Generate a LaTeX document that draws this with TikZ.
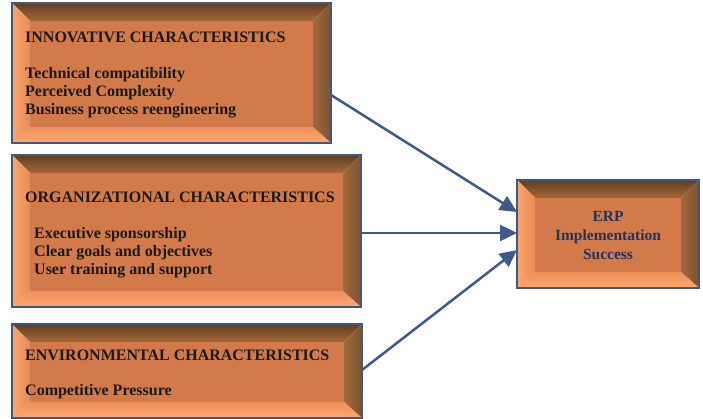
\documentclass[tikz,border=0pt]{standalone}
\usepackage{fontspec}
\setmainfont{Liberation Serif}
\usetikzlibrary{calc,arrows.meta}
\definecolor{face}{HTML}{D37A4A}
\definecolor{edgeblue}{HTML}{40587E}
\definecolor{arrowblue}{HTML}{3E5A8C}
\definecolor{navytext}{HTML}{1F3460}
\definecolor{txt}{HTML}{1A1A1A}
\definecolor{HTML5E3F22}{HTML}{5E3F22}
\definecolor{HTMLA8683A}{HTML}{A8683A}
\definecolor{HTMLFFA46C}{HTML}{FFA46C}
\definecolor{HTMLE48C58}{HTML}{E48C58}
\definecolor{HTMLA06A3C}{HTML}{A06A3C}
\definecolor{HTML7C5230}{HTML}{7C5230}
\definecolor{HTMLEE905C}{HTML}{EE905C}
\definecolor{HTMLFFA86E}{HTML}{FFA86E}
\newcommand{\bevelbox}[1]{%
  \coordinate (A) at (#1.north west);
  \coordinate (B) at (#1.north east);
  \coordinate (C) at (#1.south east);
  \coordinate (D) at (#1.south west);
  \coordinate (a) at ($(A)+(18,18)$);
  \coordinate (b) at ($(B)+(-18,18)$);
  \coordinate (c) at ($(C)+(-18,-16)$);
  \coordinate (d) at ($(D)+(18,-16)$);
  \shade[top color=HTML5E3F22, bottom color=HTMLA8683A] (A)--(B)--(b)--(a)--cycle;
  \shade[left color=HTMLFFA46C, right color=HTMLE48C58] (A)--(a)--(d)--(D)--cycle;
  \shade[left color=HTMLA06A3C, right color=HTML7C5230] (B)--(b)--(c)--(C)--cycle;
  \shade[top color=HTMLEE905C, bottom color=HTMLFFA86E] (D)--(d)--(c)--(C)--cycle;
  \fill[face] (a) rectangle (c);
  \draw[edgeblue, line width=1.2pt] (A) rectangle (C);
}
\tikzset{
  boxshape/.style={draw=none, inner sep=0pt, outer sep=0pt},
  lbl/.style={anchor=west, inner sep=0pt, text=txt, font=\fontsize{16}{18}\selectfont\bfseries, align=left},
  conn/.style={arrowblue, line width=2.5pt, -{Triangle[length=17pt,width=16pt]}}
}
\begin{document}
\begin{tikzpicture}[x=1pt,y=-1pt]
\useasboundingbox (0,0) rectangle (703,419);
\node[boxshape, minimum width=319pt, minimum height=140pt] (inno) at (171.5,73) {};
\node[boxshape, minimum width=349pt, minimum height=152pt] (org) at (186.5,231) {};
\node[boxshape, minimum width=350pt, minimum height=94pt] (env) at (187,371) {};
\node[boxshape, minimum width=182pt, minimum height=108pt] (erp) at (608,234) {};
\bevelbox{inno}
\bevelbox{org}
\bevelbox{env}
\bevelbox{erp}
\node[lbl] (innot) at (25,37) {INNOVATIVE CHARACTERISTICS};
\node[lbl] (innol) at (25,93) {Technical compatibility\\Perceived Complexity\\Business process reengineering};
\node[lbl] (orgt) at (25,197) {ORGANIZATIONAL CHARACTERISTICS};
\node[lbl] (orgl) at (34,253) {Executive sponsorship\\Clear goals and objectives\\User training and support};
\node[lbl] (envt) at (25,355) {ENVIRONMENTAL CHARACTERISTICS};
\node[lbl] (envl) at (25,392) {Competitive Pressure};
\node[inner sep=0pt, text=navytext, font=\fontsize{15.5}{19}\selectfont\bfseries, align=center] (erpt) at (608,236) {ERP\\Implementation\\Success};
\draw[conn] ($(inno.east)+(0,22)$) -- ($(erp.west)+(0,-22)$);
\draw[conn] ($(org.east)+(0,2)$) -- ($(erp.west)+(0,-1)$);
\draw[conn] ($(env.east)+(0,-1)$) -- ($(erp.west)+(0,16)$);
\end{tikzpicture}
\end{document}
